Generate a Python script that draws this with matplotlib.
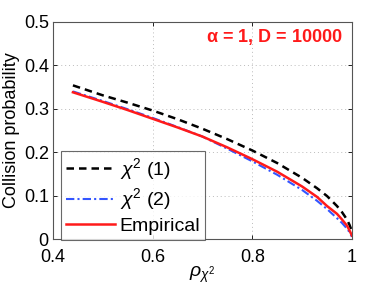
import matplotlib
matplotlib.use("Agg")
import matplotlib.pyplot as plt

plt.rcParams['font.family'] = ['Liberation Sans', 'DejaVu Sans']
plt.rcParams['mathtext.fontset'] = 'custom'
plt.rcParams['mathtext.rm'] = 'Liberation Sans'
plt.rcParams['mathtext.it'] = 'Liberation Sans:italic'
plt.rcParams['mathtext.bf'] = 'Liberation Sans:bold'

rho = [0.44, 0.5, 0.55, 0.6, 0.65, 0.7, 0.75, 0.8, 0.85, 0.9, 0.93, 0.95, 0.97, 0.98, 0.99, 0.995, 1.0]
chi1 = [0.354, 0.331, 0.314, 0.296, 0.276, 0.254, 0.230, 0.204, 0.175, 0.141, 0.117, 0.099, 0.076, 0.062, 0.045, 0.033, 0.018]
chi2 = [0.340, 0.318, 0.299, 0.279, 0.258, 0.236, 0.208, 0.179, 0.148, 0.113, 0.088, 0.069, 0.048, 0.037, 0.024, 0.016, 0.005]
emp = [0.338, 0.316, 0.297, 0.277, 0.257, 0.236, 0.211, 0.184, 0.155, 0.121, 0.097, 0.076, 0.058, 0.045, 0.031, 0.020, 0.008]

fig = plt.figure(figsize=(3.88, 2.92), dpi=100)
ax = fig.add_axes([0.1366, 0.1815, 0.7704, 0.7432])

ax.plot(rho, chi1, color='black', linestyle=(0, (3, 2)), linewidth=1.8, label=r'$\chi^2$ (1)')
ax.plot(rho, chi2, color='#3355ff', linestyle=(0, (4, 1.5, 1, 1.5)), linewidth=1.5, label=r'$\chi^2$ (2)')
ax.plot(rho, emp, color='#ff1a1a', linestyle='-', linewidth=1.8, label='Empirical')

ax.set_xlim(0.4, 1.0)
ax.set_ylim(0, 0.5)
ax.set_xticks([0.4, 0.6, 0.8, 1.0])
ax.set_xticklabels(['0.4', '0.6', '0.8', '1'])
ax.set_yticks([0, 0.1, 0.2, 0.3, 0.4, 0.5])
ax.set_yticklabels(['0', '0.1', '0.2', '0.3', '0.4', '0.5'])
ax.tick_params(axis='both', labelsize=13, direction='in', length=3, width=0.6, top=True, right=True)
ax.tick_params(axis='x', pad=7.5)
ax.tick_params(axis='y', pad=3)
ax.grid(True, linestyle=(0, (1, 3)), color='#bbbbbb', linewidth=0.7)
for s in ax.spines.values():
    s.set_linewidth(0.8)
    s.set_color('#555555')

ax.set_ylabel('Collision probability', fontsize=13, labelpad=3)
ax.set_xlabel(r'$\rho_{\chi^2}$', fontsize=14, labelpad=-1)

ax.text(0.982, 0.465, r'$\mathbf{\alpha}$ = 1, D = 10000', color='#ff1a1a', fontsize=13,
        fontweight='bold', ha='right', va='center')

leg = ax.legend(loc='lower left', bbox_to_anchor=(0.028, -0.003), fontsize=14, frameon=True,
                fancybox=False, edgecolor='#444444', handlelength=2.5, handletextpad=0.25,
                labelspacing=0.25, borderpad=0.25, borderaxespad=0.0)
leg.get_frame().set_linewidth(0.8)

fig.savefig('out.png', dpi=100)
